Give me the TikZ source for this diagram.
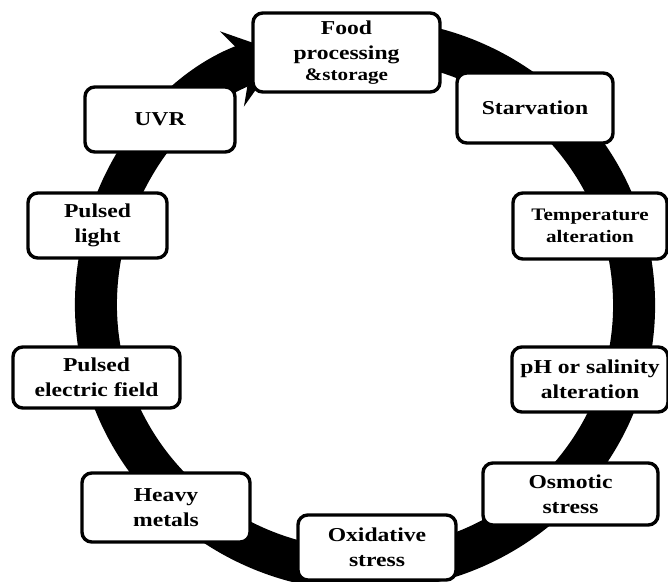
\documentclass[tikz,border=0pt]{standalone}
\usepackage{fontspec}
\newfontfamily\boxfont{Liberation Serif}[FakeStretch=1.2]
\usetikzlibrary{arrows.meta}

\begin{document}
\begin{tikzpicture}[
	x=0.025cm, y=0.025cm,
	box/.style = {draw, fill=white, line width=2.4pt, rounded corners=7pt, align=center, inner sep=2pt,
		font=\boxfont\bfseries\fontsize{14}{18}\selectfont},
	smallbox/.style = {box, font=\boxfont\bfseries\fontsize{12.5}{15.5}\selectfont},
	ring/.style = {line width=1.05cm, -{Stealth[length=1.3cm, width=1.95cm, inset=0.5cm]}}
	]
	\useasboundingbox (0,0) rectangle (668,581);
	
	% the cycle
	\coordinate (ringc) at (365,276);
	\draw[ring] ([shift={(95:6.725cm and 6.625cm)}]ringc) arc[start angle=95, end angle=-252, x radius=6.725cm, y radius=6.625cm];
	
	\node[box, minimum width=4.675cm, minimum height=1.975cm] (food) at (346.5,528.5) {Food\\processing\\[-3pt]{\fontsize{12.5}{14}\selectfont\&storage}};
	\node[box, minimum width=3.9cm, minimum height=1.75cm] (starv) at (535,473) {Starvation};
	\node[smallbox, minimum width=3.85cm, minimum height=1.65cm] (temp) at (590,355) {Temperature\\alteration};
	\node[box, minimum width=3.9cm, minimum height=1.625cm] (ph) at (590,201.5) {pH or salinity\\alteration};
	\node[box, minimum width=4.375cm, minimum height=1.55cm] (osmo) at (570.5,87) {Osmotic\\stress};
	\node[box, minimum width=3.95cm, minimum height=1.625cm] (oxid) at (377,33.5) {Oxidative\\stress};
	\node[box, minimum width=4.2cm, minimum height=1.725cm] (heavy) at (166,73.5) {Heavy\\metals};
	\node[box, minimum width=4.175cm, minimum height=1.525cm] (pef) at (96.5,203.5) {Pulsed\\electric field};
	\node[box, minimum width=3.475cm, minimum height=1.625cm] (plight) at (97.5,355.5) {Pulsed\\light};
	\node[box, minimum width=3.75cm, minimum height=1.625cm] (uvr) at (160,461.5) {UVR};
\end{tikzpicture}
\end{document}
